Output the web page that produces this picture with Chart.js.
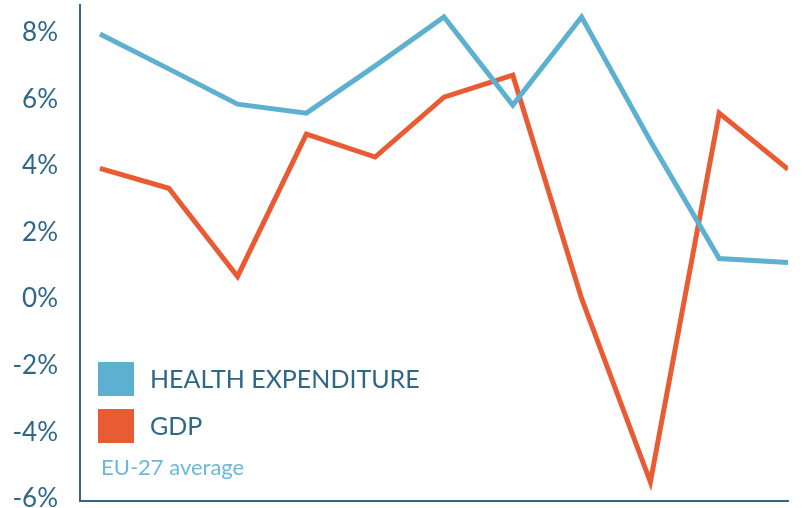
<!DOCTYPE html>
<html>
<head>
<meta charset="utf-8">
<script src="https://cdn.jsdelivr.net/npm/chart.js@4"></script>
<style>
  body { margin: 0; background: #fff; }
  #wrap { position: relative; width: 810px; height: 508px; }
  .key { position: absolute; font-family: Lato, "Open Sans", sans-serif; color: #2f6787; font-size: 25px; white-space: nowrap; }
  .sw { position: absolute; width: 36px; height: 34px; }
  .note { position: absolute; font-family: Lato, "Open Sans", sans-serif; color: #6cb8d8; font-size: 22px; }
</style>
</head>
<body>
<div id="wrap">
  <canvas id="c" width="810" height="508"></canvas>
  <div class="sw" style="left:98px;top:362px;background:#5eb0d0"></div>
  <div class="key" style="left:150px;top:363px">HEALTH EXPENDITURE</div>
  <div class="sw" style="left:98px;top:409px;background:#e95b33"></div>
  <div class="key" style="left:150px;top:410px">GDP</div>
  <div class="note" style="left:101px;top:453px">EU-27 average</div>
</div>
<script>
(function(){
  // periods along the x axis (not labelled in the original)
  const periods = [0, 1, 2, 3, 4, 5, 6, 7, 8, 9, 10];
  const healthExpenditure = [7.97, 6.92, 5.86, 5.59, 7.01, 8.48, 5.83, 8.48, 4.75, 1.22, 1.10];
  const gdp = [3.93, 3.33, 0.68, 4.96, 4.27, 6.07, 6.73, 0.02, -5.5, 5.59, 3.90];
  const yTicks = [-6, -4, -2, 0, 2, 4, 6, 8];

  const axisColor = "#2f6787";

  const toPoints = vals => vals.map((v, i) => ({ x: periods[i], y: v }));

  new Chart(document.getElementById("c").getContext("2d"), {
    type: "line",
    data: {
      datasets: [
        { label: "HEALTH EXPENDITURE", data: toPoints(healthExpenditure), borderColor: "#5eb0d0", borderWidth: 5, pointRadius: 0, tension: 0, borderJoinStyle: "miter" },
        { label: "GDP", data: toPoints(gdp), borderColor: "#e95b33", borderWidth: 5, pointRadius: 0, tension: 0, borderJoinStyle: "miter" }
      ]
    },
    options: {
      responsive: false,
      animation: false,
      layout: { padding: { top: 5, bottom: 7, right: 22, left: 0 } },
      plugins: { legend: { display: false }, tooltip: { enabled: false } },
      scales: {
        x: {
          type: "linear",
          min: -0.29,
          max: 10,
          grid: { display: false },
          border: { display: true, color: axisColor, width: 2 },
          ticks: { display: false },
          afterFit: s => { s.height = 0; }
        },
        y: {
          min: -6.07,
          max: 8.84,
          grid: { display: false, drawTicks: false },
          border: { display: true, color: axisColor, width: 2 },
          afterBuildTicks: s => { s.ticks = yTicks.map(v => ({ value: v })); },
          afterFit: s => { s.width = 80; s.paddingTop = 0; s.paddingBottom = 0; },
          ticks: {
            color: axisColor,
            padding: 22,
            font: { family: "Lato, 'Open Sans', sans-serif", size: 26 },
            callback: v => v + "%"
          }
        }
      }
    }
  });
})();
</script>
</body>
</html>
